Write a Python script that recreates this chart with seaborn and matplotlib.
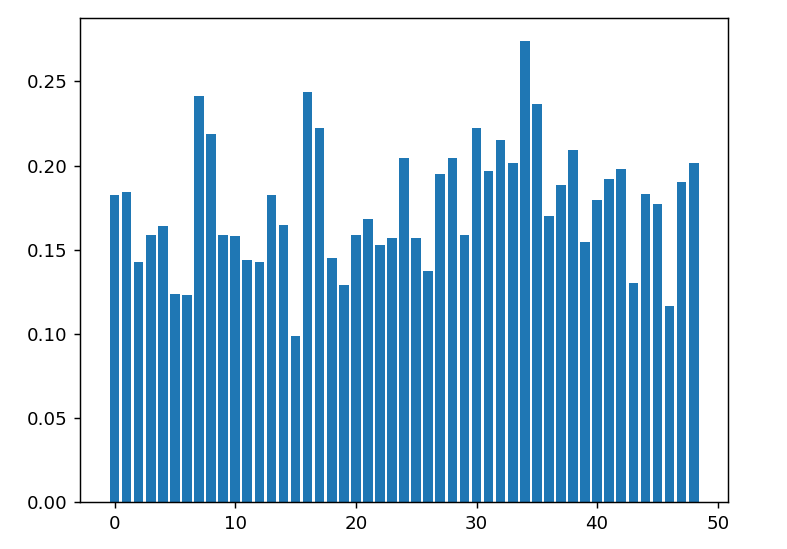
import numpy as np
import pandas as pd
import matplotlib
matplotlib.use("Agg")
import matplotlib.pyplot as plt
import seaborn as sns

# bar heights, index 0..48
idx = list(range(49))
values = [
    0.1822, 0.1840, 0.1429, 0.1589, 0.1639, 0.1237, 0.1229, 0.2415, 0.2188, 0.1589,
    0.1583, 0.1441, 0.1429, 0.1822, 0.1645, 0.0986, 0.2437, 0.2226, 0.1452, 0.1292,
    0.1589, 0.1684, 0.1528, 0.1571, 0.2046, 0.1571, 0.1371, 0.1947, 0.2046, 0.1589,
    0.2226, 0.1970, 0.2152, 0.2014, 0.2740, 0.2368, 0.1702, 0.1883, 0.2095, 0.1548,
    0.1796, 0.1921, 0.1982, 0.1304, 0.1828, 0.1772, 0.1167, 0.1903, 0.2014,
]

df = pd.DataFrame({"idx": idx, "value": values})

# reference looks like a default 100dpi figure scaled up ~1.31x, so render at 131 dpi
dpi = 131
fig, ax = plt.subplots(figsize=(787 / dpi, 549 / dpi), dpi=dpi)
fig.subplots_adjust(left=0.102, right=0.925, top=0.967, bottom=0.086)

sns.barplot(data=df, x="idx", y="value", native_scale=True, color="#1f77b4",
            saturation=1, linewidth=0, width=0.8, ax=ax)

span = (max(idx) + 0.4) - (min(idx) - 0.4)
ax.set_xlim(min(idx) - 0.4 - 0.05 * span, max(idx) + 0.4 + 0.05 * span)
ax.set_ylim(0, max(values) * 1.05)
ax.set_xticks([0, 10, 20, 30, 40, 50])
ax.set_yticks([0.0, 0.05, 0.10, 0.15, 0.20, 0.25])
ax.set_xlabel("")
ax.set_ylabel("")

fig.savefig("out.png", dpi=dpi)
